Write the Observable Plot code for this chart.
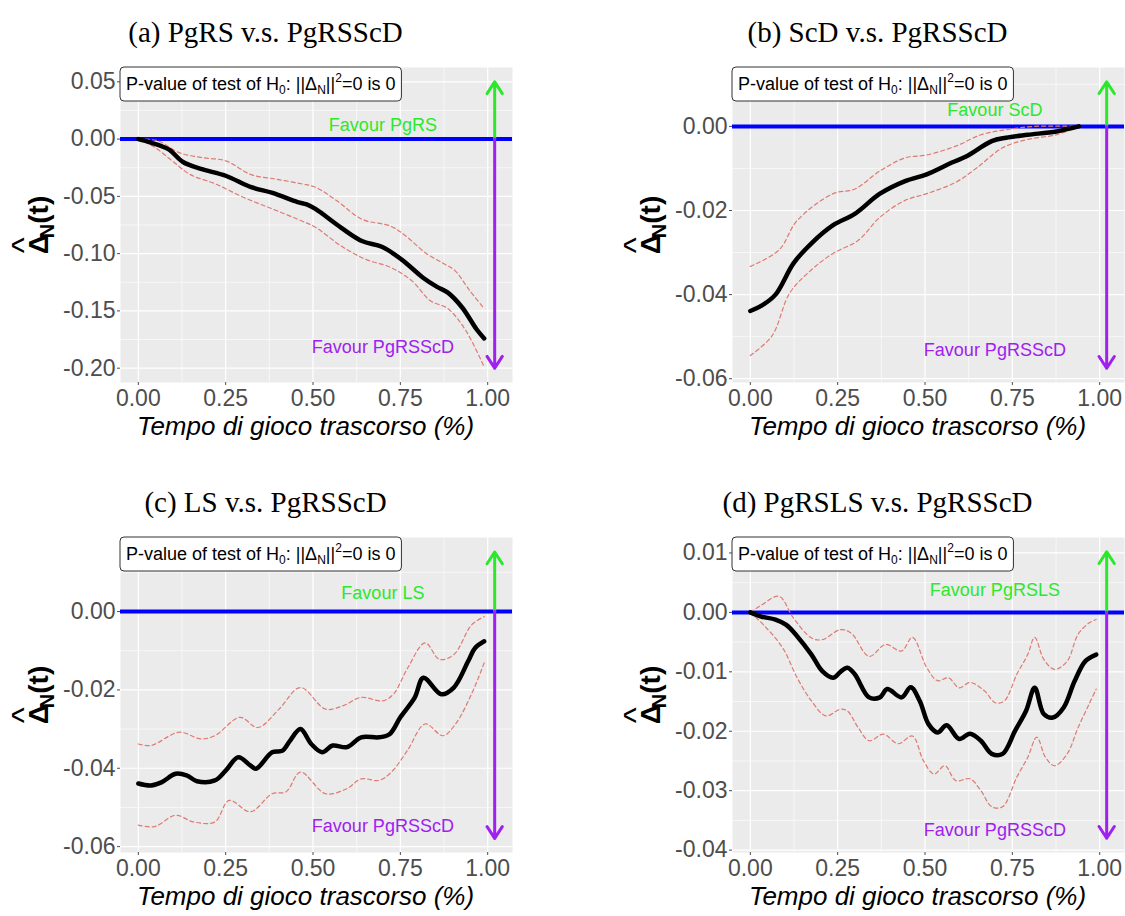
<!DOCTYPE html>
<html><head><meta charset="utf-8">
<script src="https://cdn.jsdelivr.net/npm/d3@7"></script>
<script src="https://cdn.jsdelivr.net/npm/@observablehq/plot@0.6"></script>
<style>
html,body{margin:0;padding:0;background:#fff;}
#root{position:relative;width:1125px;height:916px;overflow:hidden;background:#fff;}
#root svg{position:absolute;}
</style></head><body><div id="root"></div>
<script>
// ---------- data ----------
const titles = ["(a) PgRS v.s. PgRSScD", "(b) ScD v.s. PgRSScD", "(c) LS v.s. PgRSScD", "(d) PgRSLS v.s. PgRSScD"];
const favourUp = ["Favour PgRS", "Favour ScD", "Favour LS", "Favour PgRSLS"];
const favourDown = ["Favour PgRSScD", "Favour PgRSScD", "Favour PgRSScD", "Favour PgRSScD"];
const xTitle = "Tempo di gioco trascorso (%)";
const yTitle = "\u0394N(t)";
const pvalText = "P-value of test of H0: ||\u0394N||2=0 is 0";

const xTicks = [0, 0.25, 0.5, 0.75, 1];
const xMinor = [0.125, 0.375, 0.625, 0.875];
const xDomain = [-0.051, 1.071];
const arrowX = 1.02;
const labelX = 0.7;

const yTicksA = [0.05, 0, -0.05, -0.1, -0.15, -0.2];
const yMinorA = [0.025, -0.025, -0.075, -0.125, -0.175];
const yTicksB = [0, -0.02, -0.04, -0.06];
const yMinorB = [0.01, -0.01, -0.03, -0.05];
const yTicksC = [0, -0.02, -0.04, -0.06];
const yMinorC = [0.01, -0.01, -0.03, -0.05];
const yTicksD = [0.01, 0, -0.01, -0.02, -0.03, -0.04];
const yMinorD = [0.005, -0.005, -0.015, -0.025, -0.035];

const yDomains = [[-0.2125, 0.0625], [-0.0609, 0.014], [-0.0615, 0.0189], [-0.0404, 0.0126]];
const arrowTops = [0.05, 0.0106, 0.0152, 0.0102];
const arrowBottoms = [-0.2, -0.0575, -0.0579, -0.038];
const upLabelY = [0.012, 0.0039, 0.0046, 0.0038];
const downLabelY = [-0.182, -0.0533, -0.0549, -0.0367];

const meanA = [[0,0],[0.036,-0.003],[0.087,-0.009],[0.128,-0.020],[0.179,-0.026],[0.25,-0.032],[0.323,-0.042],[0.384,-0.047],[0.456,-0.055],[0.482,-0.057],[0.507,-0.061],[0.579,-0.077],[0.64,-0.089],[0.697,-0.094],[0.753,-0.105],[0.815,-0.121],[0.855,-0.129],[0.886,-0.134],[0.927,-0.147],[0.968,-0.166],[0.99,-0.174]];
const upA = [[0,0],[0.056,-0.0015],[0.118,-0.012],[0.179,-0.016],[0.25,-0.019],[0.323,-0.031],[0.395,-0.035],[0.466,-0.039],[0.507,-0.042],[0.569,-0.054],[0.64,-0.070],[0.722,-0.076],[0.763,-0.084],[0.825,-0.100],[0.876,-0.109],[0.907,-0.115],[0.948,-0.132],[0.99,-0.148]];
const loA = [[0,0],[0.046,-0.007],[0.097,-0.019],[0.149,-0.031],[0.22,-0.039],[0.302,-0.051],[0.384,-0.061],[0.456,-0.070],[0.507,-0.077],[0.579,-0.093],[0.651,-0.105],[0.722,-0.112],[0.784,-0.124],[0.835,-0.141],[0.886,-0.148],[0.937,-0.167],[0.99,-0.199]];

const meanB = [[0,-0.0439],[0.031,-0.0427],[0.072,-0.040],[0.124,-0.0325],[0.175,-0.0278],[0.237,-0.0235],[0.299,-0.0208],[0.371,-0.016],[0.443,-0.013],[0.505,-0.0114],[0.577,-0.0086],[0.619,-0.0071],[0.691,-0.0035],[0.732,-0.0027],[0.794,-0.002],[0.876,-0.0012],[0.94,0]];
const upB = [[0,-0.0333],[0.082,-0.0294],[0.134,-0.0224],[0.237,-0.016],[0.299,-0.0149],[0.371,-0.0106],[0.443,-0.0075],[0.505,-0.0068],[0.588,-0.0047],[0.66,-0.002],[0.732,-0.0008],[0.814,0],[0.94,0]];
const loB = [[0,-0.0545],[0.062,-0.0498],[0.113,-0.0396],[0.175,-0.0341],[0.237,-0.0302],[0.309,-0.0271],[0.371,-0.0216],[0.443,-0.0176],[0.505,-0.016],[0.588,-0.0133],[0.649,-0.0098],[0.722,-0.0051],[0.794,-0.0031],[0.876,-0.002],[0.94,0]];

const meanC = [[0,-0.0439],[0.036,-0.0444],[0.066,-0.0436],[0.107,-0.0414],[0.138,-0.0418],[0.168,-0.0433],[0.219,-0.0431],[0.25,-0.0406],[0.286,-0.0372],[0.321,-0.0393],[0.337,-0.0401],[0.383,-0.0359],[0.413,-0.0355],[0.434,-0.033],[0.464,-0.030],[0.495,-0.0338],[0.526,-0.0359],[0.556,-0.0342],[0.597,-0.0346],[0.638,-0.0321],[0.689,-0.0321],[0.719,-0.0313],[0.75,-0.027],[0.791,-0.022],[0.816,-0.0169],[0.867,-0.0211],[0.903,-0.0194],[0.944,-0.0127],[0.964,-0.0093],[0.99,-0.0076]];
const upC = [[0,-0.0338],[0.036,-0.0342],[0.117,-0.0308],[0.179,-0.0325],[0.219,-0.0317],[0.291,-0.027],[0.342,-0.0296],[0.403,-0.0249],[0.464,-0.0194],[0.536,-0.0249],[0.587,-0.024],[0.638,-0.0219],[0.699,-0.0228],[0.73,-0.0211],[0.771,-0.0144],[0.821,-0.008],[0.862,-0.0122],[0.903,-0.011],[0.954,-0.0034],[0.99,-0.0013]];
const loC = [[0,-0.0545],[0.046,-0.0549],[0.107,-0.052],[0.158,-0.0537],[0.219,-0.0537],[0.26,-0.0482],[0.321,-0.0511],[0.383,-0.0465],[0.423,-0.046],[0.464,-0.041],[0.536,-0.0465],[0.597,-0.0452],[0.638,-0.0427],[0.689,-0.0431],[0.724,-0.041],[0.77,-0.0355],[0.821,-0.0287],[0.872,-0.0317],[0.908,-0.0287],[0.954,-0.021],[0.99,-0.0131]];

const meanD = [[0,0],[0.031,-0.0007],[0.072,-0.0012],[0.103,-0.0021],[0.134,-0.004],[0.175,-0.0071],[0.206,-0.0099],[0.237,-0.011],[0.258,-0.010],[0.278,-0.0093],[0.299,-0.0104],[0.34,-0.0143],[0.371,-0.0143],[0.392,-0.0129],[0.433,-0.0143],[0.459,-0.0126],[0.485,-0.0149],[0.51,-0.0188],[0.536,-0.0202],[0.562,-0.019],[0.598,-0.0213],[0.629,-0.0204],[0.66,-0.0216],[0.691,-0.0238],[0.722,-0.0238],[0.758,-0.0199],[0.789,-0.0166],[0.814,-0.0127],[0.84,-0.0171],[0.866,-0.0177],[0.897,-0.016],[0.928,-0.0116],[0.959,-0.0082],[0.99,-0.0071]];
const upD = [[0,0],[0.031,0.0012],[0.082,0.0027],[0.124,-0.001],[0.175,-0.0043],[0.206,-0.0046],[0.258,-0.0029],[0.289,-0.0035],[0.34,-0.0074],[0.387,-0.0054],[0.433,-0.0065],[0.464,-0.0042],[0.505,-0.0093],[0.536,-0.0115],[0.567,-0.011],[0.598,-0.0127],[0.629,-0.0118],[0.67,-0.0132],[0.701,-0.0152],[0.727,-0.0149],[0.763,-0.0104],[0.794,-0.0071],[0.814,-0.0042],[0.84,-0.0079],[0.871,-0.0096],[0.907,-0.0082],[0.938,-0.0037],[0.969,-0.0018],[0.99,-0.0012]];
const loD = [[0,0],[0.041,-0.0023],[0.093,-0.006],[0.134,-0.011],[0.175,-0.0149],[0.216,-0.0174],[0.258,-0.0163],[0.278,-0.0166],[0.309,-0.0194],[0.34,-0.0216],[0.381,-0.0205],[0.423,-0.0221],[0.464,-0.0208],[0.495,-0.0249],[0.526,-0.0272],[0.557,-0.0258],[0.588,-0.0283],[0.629,-0.028],[0.66,-0.030],[0.691,-0.0327],[0.722,-0.0327],[0.763,-0.0277],[0.794,-0.0244],[0.82,-0.021],[0.845,-0.0244],[0.871,-0.0258],[0.907,-0.0238],[0.938,-0.0194],[0.969,-0.0155],[0.99,-0.0129]];

// ---------- drawing ----------
const GREEN = "#2BE82B", PURPLE = "#A020F0";
const W = 540, H = 450, ML = 120, MR = 28, MT = 67, MB = 68;
const fmt = d => (Math.abs(d) < 1e-12 ? 0 : d).toFixed(2);
const sans = "'Liberation Sans', Arial, sans-serif";

const panels = [
  {left: 0,   top: 0,   yTicks: yTicksA, yMinor: yMinorA, mean: meanA, up: upA, lo: loA},
  {left: 612, top: 0,   yTicks: yTicksB, yMinor: yMinorB, mean: meanB, up: upB, lo: loB},
  {left: 0,   top: 470, yTicks: yTicksC, yMinor: yMinorC, mean: meanC, up: upC, lo: loC},
  {left: 612, top: 470, yTicks: yTicksD, yMinor: yMinorD, mean: meanD, up: upD, lo: loD}
];

const root = document.getElementById("root");
const xy = {x: d => d[0], y: d => d[1], curve: "catmull-rom"};

panels.forEach((p, i) => {
  const svg = Plot.plot({
    width: W, height: H,
    marginLeft: ML, marginRight: MR, marginTop: MT, marginBottom: MB,
    style: {fontFamily: sans, background: "transparent", overflow: "visible"},
    x: {domain: xDomain, axis: null},
    y: {domain: yDomains[i], axis: null},
    marks: [
      Plot.frame({fill: "#EBEBEB", stroke: null}),
      Plot.gridX(xMinor, {stroke: "#fff", strokeOpacity: 1, strokeWidth: 0.6}),
      Plot.gridY(p.yMinor, {stroke: "#fff", strokeOpacity: 1, strokeWidth: 0.6}),
      Plot.gridX(xTicks, {stroke: "#fff", strokeOpacity: 1, strokeWidth: 1.2}),
      Plot.gridY(p.yTicks, {stroke: "#fff", strokeOpacity: 1, strokeWidth: 1.2}),
      Plot.axisX(xTicks, {tickFormat: fmt, tickSize: 3, tickPadding: 4, fontSize: 23, color: "#4D4D4D", label: null}),
      Plot.axisY(p.yTicks, {tickFormat: fmt, tickSize: 3, tickPadding: 2, fontSize: 23, color: "#4D4D4D", label: null}),
      Plot.ruleY([0], {stroke: "#0000FF", strokeWidth: 4}),
      Plot.line(p.up, {...xy, stroke: "#DE7A72", strokeWidth: 1.2, strokeDasharray: "4,3"}),
      Plot.line(p.lo, {...xy, stroke: "#DE7A72", strokeWidth: 1.2, strokeDasharray: "4,3"}),
      Plot.line(p.mean, {...xy, stroke: "#000", strokeWidth: 4.5}),
      Plot.arrow([{x: arrowX, y1: 0, y2: arrowTops[i]}], {x: "x", y1: "y1", y2: "y2", stroke: GREEN, strokeWidth: 3, headAngle: 66, headLength: 7}),
      Plot.arrow([{x: arrowX, y1: 0, y2: arrowBottoms[i]}], {x: "x", y1: "y1", y2: "y2", stroke: PURPLE, strokeWidth: 3, headAngle: 66, headLength: 7}),
      Plot.text([favourUp[i]], {x: labelX, y: upLabelY[i], text: d => d, fill: GREEN, fontSize: 18}),
      Plot.text([favourDown[i]], {x: labelX, y: downLabelY[i], text: d => d, fill: PURPLE, fontSize: 18}),
      Plot.text([pvalText], {frameAnchor: "top-left", text: d => d, textAnchor: "start", lineAnchor: "top", fontSize: 18, fill: "#000"}),
      Plot.text([xTitle], {frameAnchor: "bottom", text: d => d, dx: -11, dy: 52, lineAnchor: "bottom", fontSize: 26, fontStyle: "italic", fill: "#000"}),
      Plot.text([yTitle], {frameAnchor: "left", text: d => d, dx: -73, rotate: -90, lineAnchor: "bottom", textAnchor: "middle", fontSize: 28, fontWeight: "bold", fill: "#000"}),
      Plot.text([titles[i]], {frameAnchor: "top-left", text: d => d, dx: 145, dy: -26, lineAnchor: "bottom", textAnchor: "middle", fontSize: 29, fontFamily: "'Liberation Serif', 'Times New Roman', serif", fill: "#000"})
    ]
  });
  svg.style.left = p.left + "px";
  svg.style.top = p.top + "px";
  root.appendChild(svg);

  // rich text: hat, subscripts / superscripts and the label box
  const svgRect = svg.getBoundingClientRect();
  for (const t of svg.querySelectorAll("text")) {
    const s = t.textContent;
    if (s === yTitle) {
      t.innerHTML = '\u0394<tspan font-size="34" font-weight="normal" dx="-19" dy="-13">^</tspan><tspan font-size="20" dx="-1" dy="19">N</tspan><tspan dy="-6">(t)</tspan>';
    } else if (s === pvalText) {
      t.innerHTML = 'P-value of test of H<tspan font-size="12" dy="4">0</tspan><tspan dy="-4">: ||\u0394</tspan><tspan font-size="12" dy="4">N</tspan><tspan dy="-4">||</tspan><tspan font-size="12" dy="-8">2</tspan><tspan dy="8">=0 is 0</tspan>';
      const r = t.getBoundingClientRect();
      const padX = 6, padY = 4;
      const g = t.parentNode;
      const sx = ML + padX - (r.left - svgRect.left);
      const sy = MT + padY - (r.top - svgRect.top);
      g.setAttribute("transform", (g.getAttribute("transform") || "") + ` translate(${sx},${sy})`);
      const rect = document.createElementNS("http://www.w3.org/2000/svg", "rect");
      rect.setAttribute("x", ML);
      rect.setAttribute("y", MT);
      rect.setAttribute("width", r.width + 2 * padX);
      rect.setAttribute("height", r.height + 2 * padY);
      rect.setAttribute("rx", 4);
      rect.setAttribute("fill", "#fff");
      rect.setAttribute("stroke", "#333");
      rect.setAttribute("stroke-width", 1);
      g.parentNode.insertBefore(rect, g);
    }
  }
});
</script></body></html>
